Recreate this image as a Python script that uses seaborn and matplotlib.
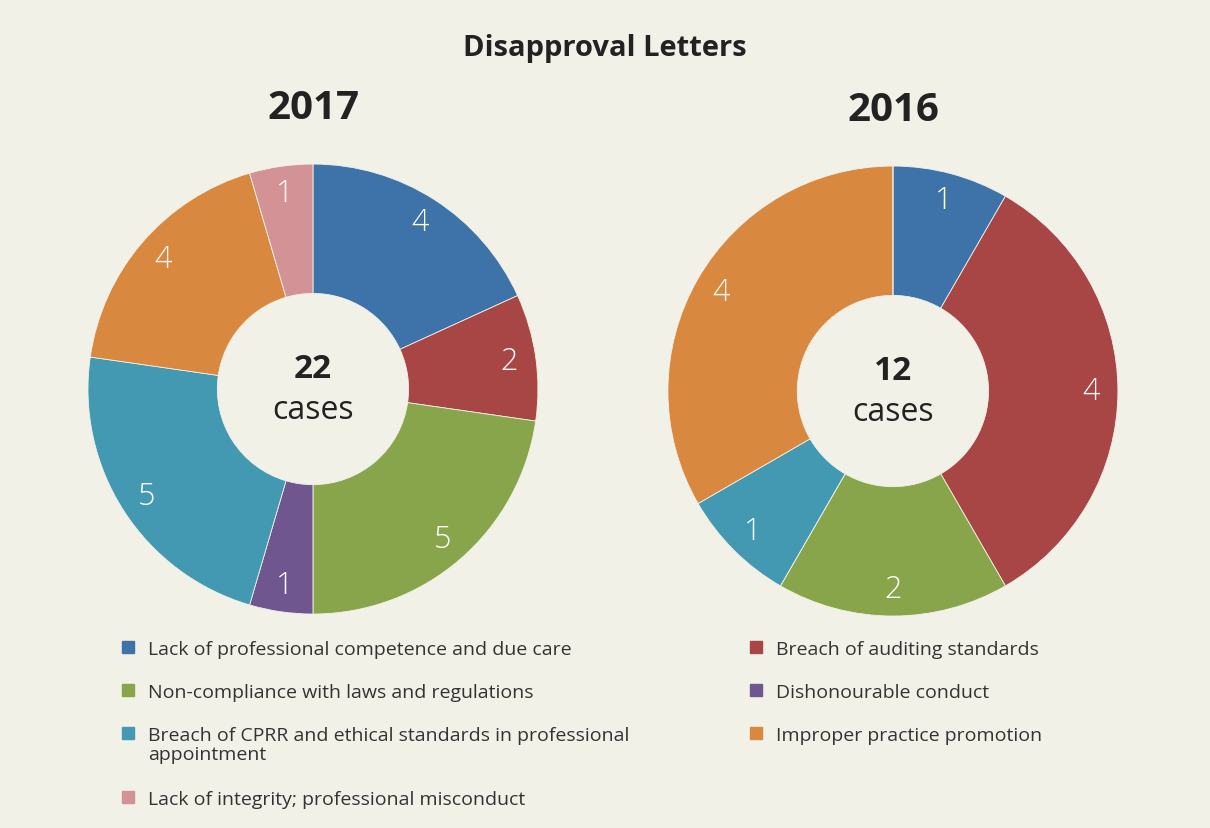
import matplotlib.pyplot as plt
import seaborn as sns

# Dane
kategorie = [
    "Lack of professional competence and due care",
    "Breach of auditing standards",
    "Non-compliance with laws and regulations",
    "Dishonourable conduct",
    "Breach of CPRR and ethical standards in professional\nappointment",
    "Improper practice promotion",
    "Lack of integrity; professional misconduct",
]
kolory = ["#3e73a9", "#a74644", "#88a54b", "#6f568f", "#4399b2", "#d8883f", "#d39396"]
wartosci_2017 = [4, 2, 5, 1, 5, 4, 1]
wartosci_2016 = [1, 4, 2, 0, 1, 4, 0]
lata = ["2017", "2016"]

TLO = "#f2f1e8"
TEKST = "#333333"

sns.set_theme(style="white")
plt.rcParams["font.family"] = ["Open Sans", "DejaVu Sans"]

fig = plt.figure(figsize=(12.1, 8.29), dpi=100, facecolor=TLO)

pozycje = [[0.0727, 0.2581, 0.3719, 0.5428], [0.552, 0.2557, 0.3719, 0.5428]]


def rysuj_donut(ax, wartosci, rok):
    suma = sum(wartosci)

    def etykieta(p):
        v = round(p * suma / 100)
        return f"{v}" if v > 0 else ""

    ax.pie(
        wartosci, colors=kolory, startangle=90, counterclock=False,
        radius=1, autopct=etykieta, pctdistance=0.88,
        wedgeprops=dict(width=0.575, edgecolor=TLO, linewidth=0.6),
        textprops=dict(color="white", fontsize=22, fontweight="light"))
    ax.set_xlim(-1, 1)
    ax.set_ylim(-1, 1)
    ax.set_aspect("equal")
    ax.axis("off")
    ax.text(0, 0.09, f"{suma}", ha="center", va="center", fontsize=24,
            fontweight="bold", color="#222222")
    ax.text(0, -0.09, "cases", ha="center", va="center", fontsize=23,
            color="#222222")
    ax.text(0, 1.25, rok, ha="center", va="center", fontsize=29,
            fontweight="bold", color="#222222")


for poz, wart, rok in zip(pozycje, [wartosci_2017, wartosci_2016], lata):
    ax = fig.add_axes(poz)
    ax.set_facecolor(TLO)
    rysuj_donut(ax, wart, rok)

fig.text(0.5, 0.941, "Disapproval Letters", ha="center", va="center",
         fontsize=21, fontweight="bold", color="#222222")

# Legenda w dwóch kolumnach
lewa = [0, 2, 4, 6]
prawa = [1, 3, 5]
y_lewa = [648, 691, 734, 798]
y_prawa = [648, 691, 734]


def wpis(x_kw, x_txt, y, idx):
    fig.patches.append(plt.Rectangle((x_kw / 1210, 1 - (y + 6) / 829), 12 / 1210, 12 / 829,
                                     transform=fig.transFigure, color=kolory[idx]))
    fig.text(x_txt / 1210, 1 - (y - 7) / 829, kategorie[idx], ha="left", va="top",
             fontsize=14, color=TEKST, linespacing=1.1)


for idx, y in zip(lewa, y_lewa):
    wpis(122, 148, y, idx)
for idx, y in zip(prawa, y_prawa):
    wpis(750, 776, y, idx)

fig.savefig("out.png", dpi=100, facecolor=TLO)
